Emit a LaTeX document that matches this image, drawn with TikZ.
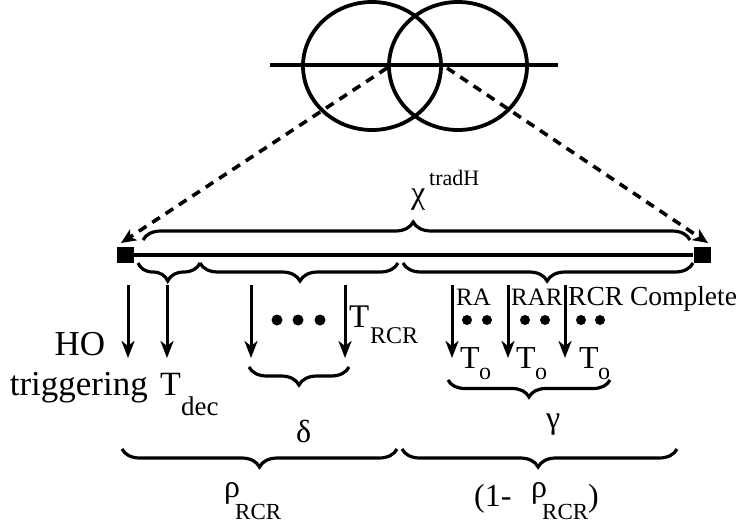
\documentclass[tikz,border=0pt]{standalone}
\usepackage{fontspec}
\setmainfont{Liberation Serif}
\usetikzlibrary{arrows.meta,decorations.pathreplacing}
\begin{document}
\begin{tikzpicture}[x=1pt,y=-1pt,
  ring/.style={line width=3.8pt},
  dashedarrow/.style={line width=3.6pt, dash pattern=on 9pt off 7pt, -{Stealth[length=15pt,width=13pt,inset=4pt]}},
  downarrow/.style={line width=3pt, -{Stealth[length=17pt,width=13pt,inset=5pt]}},
  endsq/.style={fill=black, draw=none, minimum width=17pt, minimum height=16pt, inner sep=0pt},
  bup/.style={decorate, decoration={brace, amplitude=#1}, line width=3.2pt},
  bdown/.style={decorate, decoration={brace, amplitude=#1}, line width=3.2pt},
  lab/.style={inner sep=0pt, anchor=base west, font=\fontsize{#1}{#1}\selectfont},
  labc/.style={inner sep=0pt, anchor=base, font=\fontsize{#1}{#1}\selectfont},
  dot/.style={circle, fill=black, draw=none, inner sep=0pt, minimum size=#1}
]
\useasboundingbox (0,0) rectangle (739,530);

% transformer symbol
\draw[ring] (372,66) ellipse [x radius=69, y radius=64];
\draw[ring] (458,66) ellipse [x radius=69, y radius=64];
\coordinate (hl) at (270,65);
\coordinate (hr) at (558,65);
\draw[ring] (hl) -- (hr);

% end squares and bar
\node[endsq] (sqL) at (125,255) {};
\node[endsq] (sqR) at (702,255) {};
\draw[line width=4pt] (sqL.east) -- (sqR.west);

% dashed arrows
\coordinate (dsL) at (387,68);
\coordinate (dsR) at (447,68);
\coordinate (tipL) at (121,243);
\coordinate (tipR) at (708,243);
\draw[dashedarrow] (dsL) -- (tipL);
\draw[dashedarrow] (dsR) -- (tipR);

% top brace
\draw[bup=18pt, decoration={aspect=0.494}] (143,240) -- (690,240);
\node[lab=32] (chi) at (411,203) {χ};
\node[lab=22] (trad) at (429,185) {tradH};

% braces under the bar
\draw[bdown=18pt, decoration={aspect=0.52}] (200,263) -- (138,263);
\draw[bdown=18pt, decoration={aspect=0.495}] (398,263) -- (200,263);
\draw[bdown=18pt, decoration={aspect=0.503}] (693,263) -- (403,263);

% down arrows
\foreach \n/\x in {1/128,2/167,3/251,4/345,5/452,6/508,7/565}{
  \coordinate (t\n) at (\x,285);
  \coordinate (b\n) at (\x,358);
  \draw[downarrow] (t\n) -- (b\n);
}

% dots
\node[dot=11pt] (d1) at (277,320) {};
\node[dot=11pt] (d2) at (298,320) {};
\node[dot=11pt] (d3) at (320,320) {};
\node[dot=10pt] (e1) at (467,320) {};
\node[dot=10pt] (e2) at (487,320) {};
\node[dot=10pt] (e3) at (525,320) {};
\node[dot=10pt] (e4) at (545,320) {};
\node[dot=10pt] (e5) at (581,320) {};
\node[dot=10pt] (e6) at (600,320) {};

% labels near arrows
\node[labc=35] (ho) at (80,355) {HO};
\node[inner sep=0pt, anchor=base east, font=\fontsize{35}{35}\selectfont] (trig) at (148,395) {triggering};
\node[lab=34] (tdec) at (160,395) {T};
\node[lab=27] (dec) at (181,415) {dec};
\node[lab=33] (trcr) at (349,327) {T};
\node[lab=24] (rcrsub) at (370,343) {RCR};
\node[lab=25] (ra) at (456,305) {RA};
\node[lab=25] (rar) at (511,305) {RAR};
\node[lab=27.5] (rcrc) at (568,305) {RCR Complete};
\node[lab=32] (to1) at (460,368) {T};
\node[lab=24] (o1) at (479,379) {o};
\node[lab=32] (to2) at (516,368) {T};
\node[lab=24] (o2) at (535,379) {o};
\node[lab=32] (to3) at (579,368) {T};
\node[lab=24] (o3) at (598,379) {o};

% second row braces
\draw[bdown=18pt, decoration={aspect=0.5}] (349,367) -- (249,367);
\draw[bdown=17pt, decoration={aspect=0.5}] (610,380) -- (448,380);
\node[lab=32] (delta) at (296,442) {δ};
\node[lab=32] (gamma) at (546,428) {γ};

% bottom braces
\draw[bdown=18pt, decoration={aspect=0.50}] (397,449) -- (122,449);
\draw[bdown=18pt, decoration={aspect=0.505}] (677,449) -- (402,449);
\node[lab=32] (rho1) at (224,497) {ρ};
\node[lab=23] (rcr1) at (235,519) {RCR};
\node[lab=32] (par) at (474,506) {(1-};
\node[lab=32] (rho2) at (531,497) {ρ};
\node[lab=23] (rcr2) at (542,519) {RCR};
\node[lab=32] (pcl) at (588,506) {)};
\end{tikzpicture}
\end{document}
